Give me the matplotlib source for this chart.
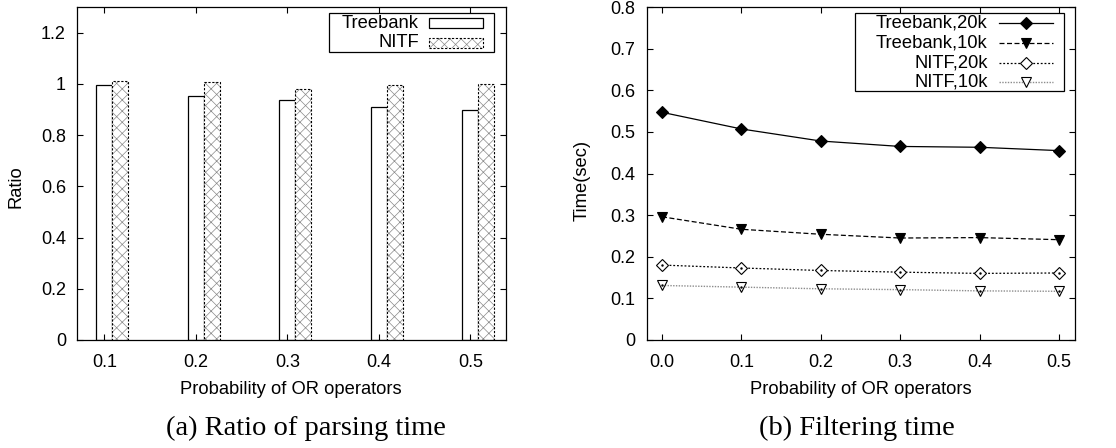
import matplotlib
matplotlib.use("Agg")
import matplotlib.pyplot as plt
from matplotlib.patches import Rectangle
from matplotlib.lines import Line2D
import numpy as np

# ---------------- data ----------------
prob_a = [0.1, 0.2, 0.3, 0.4, 0.5]
ratio_treebank = [0.996, 0.953, 0.938, 0.911, 0.897]
ratio_nitf = [1.013, 1.006, 0.981, 0.996, 0.999]

prob_b = [0.0, 0.1, 0.2, 0.3, 0.4, 0.5]
time_treebank_20k = [0.547, 0.507, 0.478, 0.465, 0.463, 0.455]
time_treebank_10k = [0.296, 0.266, 0.254, 0.245, 0.246, 0.241]
time_nitf_20k = [0.180, 0.173, 0.167, 0.163, 0.160, 0.161]
time_nitf_10k = [0.131, 0.127, 0.123, 0.121, 0.118, 0.117]

yticks_a = [0, 0.2, 0.4, 0.6, 0.8, 1.0, 1.2]
ytick_labels_a = ["0", "0.2", "0.4", "0.6", "0.8", "1", "1.2"]
yticks_b = [0, 0.1, 0.2, 0.3, 0.4, 0.5, 0.6, 0.7, 0.8]
ytick_labels_b = ["0", "0.1", "0.2", "0.3", "0.4", "0.5", "0.6", "0.7", "0.8"]
xtick_labels_a = ["0.1", "0.2", "0.3", "0.4", "0.5"]
xtick_labels_b = ["0.0", "0.1", "0.2", "0.3", "0.4", "0.5"]

legend_a = ["Treebank", "NITF"]
legend_b = ["Treebank,20k", "Treebank,10k", "NITF,20k", "NITF,10k"]
xlabel = "Probability of OR operators"
caption_a = "(a) Ratio of parsing time"
caption_b = "(b) Filtering time"

# ---------------- style ----------------
plt.rcParams["font.family"] = ["Liberation Sans", "DejaVu Sans"]
plt.rcParams["hatch.linewidth"] = 0.5
TICK_FS = 13
LAB_FS = 13.2
LEG_FS = 13.2
CAP_FS = 20.5
HATCH_C = "#8a8a8a"
HATCH = "xxx"

W, H = 1116, 448
fig = plt.figure(figsize=(W / 100, H / 100), dpi=100)

def style_axes(ax):
    ax.tick_params(direction="in", top=True, right=True, length=4.5, width=0.8,
                   labelsize=TICK_FS, pad=8)
    ax.tick_params(axis="x", pad=10)
    for s in ax.spines.values():
        s.set_linewidth(0.9)

# ---------------- panel (a) ----------------
axa = fig.add_axes([77 / W, 1 - 340 / H, 429 / W, 333 / H])
bw = 0.0175
xa = np.array(prob_a)
axa.bar(xa, ratio_treebank, width=bw, facecolor="white", edgecolor="black", linewidth=0.9)
axa.bar(xa + bw, ratio_nitf, width=bw, facecolor="white", edgecolor=HATCH_C,
        hatch=HATCH, linewidth=0)
axa.bar(xa + bw, ratio_nitf, width=bw, fill=False, edgecolor="black",
        linewidth=0.8, linestyle=(0, (2, 1.5)))
axa.set_xlim(0.070, 0.539)
axa.set_ylim(0, 1.3)
axa.set_xticks(prob_a, xtick_labels_a)
axa.set_yticks(yticks_a, ytick_labels_a)
style_axes(axa)
axa.text(-0.142, 0.46, "Ratio", transform=axa.transAxes, rotation=90,
         ha="center", va="center", fontsize=LAB_FS)
axa.text(0.499, -0.148, xlabel, transform=axa.transAxes, ha="center", va="center",
         fontsize=LAB_FS)

# legend (a)
axa.add_patch(Rectangle((0.587, 0.865), 0.972 - 0.587, 0.983 - 0.865,
                        transform=axa.transAxes, fill=False, edgecolor="black",
                        linewidth=0.9, zorder=5))
rows_a = [0.951, 0.893]
for i, (lab, y) in enumerate(zip(legend_a, rows_a)):
    axa.text(0.797, y, lab, transform=axa.transAxes, ha="right", va="center",
             fontsize=LEG_FS, zorder=6)
    if i == 0:
        axa.add_patch(Rectangle((0.821, y - 0.015), 0.126, 0.030, transform=axa.transAxes,
                                facecolor="white", edgecolor="black", linewidth=0.9, zorder=6))
    else:
        axa.add_patch(Rectangle((0.821, y - 0.015), 0.126, 0.030, transform=axa.transAxes,
                                facecolor="white", edgecolor=HATCH_C, hatch=HATCH,
                                linewidth=0, zorder=6))
        axa.add_patch(Rectangle((0.821, y - 0.015), 0.126, 0.030, transform=axa.transAxes,
                                fill=False, edgecolor="black", linewidth=0.8,
                                linestyle=(0, (2, 1.5)), zorder=7))

# ---------------- panel (b) ----------------
axb = fig.add_axes([646.7 / W, 1 - 340 / H, 428 / W, 333 / H])
styles = [
    dict(color="black", linestyle="-", marker="D", markersize=6,
         markerfacecolor="black", markeredgecolor="black", linewidth=0.9),
    dict(color="black", linestyle=(0, (4, 2)), marker="v", markersize=7,
         markerfacecolor="black", markeredgecolor="black", linewidth=0.9),
    dict(color="black", linestyle=(0, (1.5, 1.5)), marker="D", markersize=6,
         markerfacecolor="white", markeredgecolor="black", linewidth=0.9),
    dict(color="#8c8c8c", linestyle=(0, (1, 1)), marker="v", markersize=7,
         markerfacecolor="white", markeredgecolor="black", linewidth=1.0),
]
series = [time_treebank_20k, time_treebank_10k, time_nitf_20k, time_nitf_10k]
for vals, st in zip(series, styles):
    axb.plot(prob_b, vals, markeredgewidth=0.8, **st)
    if st["markerfacecolor"] == "white":
        axb.plot(prob_b, vals, linestyle="none", marker=".", markersize=1.5,
                 color="black")
axb.set_xlim(-0.0193, 0.5198)
axb.set_ylim(0, 0.8)
axb.set_xticks(prob_b, xtick_labels_b)
axb.set_yticks(yticks_b, ytick_labels_b)
style_axes(axb)
axb.text(-0.150, 0.48, "Time(sec)", transform=axb.transAxes, rotation=90,
         ha="center", va="center", fontsize=LAB_FS)
axb.text(0.50, -0.148, xlabel, transform=axb.transAxes, ha="center", va="center",
         fontsize=LAB_FS)

# legend (b)
axb.add_patch(Rectangle((0.487, 0.748), 0.975 - 0.487, 0.983 - 0.748,
                        transform=axb.transAxes, fill=False, edgecolor="black",
                        linewidth=0.9, zorder=5))
rows_b = [0.953, 0.893, 0.833, 0.775]
for lab, y, st in zip(legend_b, rows_b, styles):
    axb.text(0.797, y, lab, transform=axb.transAxes, ha="right", va="center",
             fontsize=LEG_FS, zorder=6)
    ln = Line2D([0.824, 0.949], [y, y], transform=axb.transAxes,
                color=st["color"], linestyle=st["linestyle"],
                linewidth=st["linewidth"], zorder=6)
    axb.add_line(ln)
    mk = Line2D([0.886], [y], transform=axb.transAxes, linestyle="none",
                marker=st["marker"], markersize=st["markersize"],
                markerfacecolor=st["markerfacecolor"],
                markeredgecolor=st["markeredgecolor"], markeredgewidth=0.8, zorder=7)
    axb.add_line(mk)

# captions
fig.text(306 / W, 1 - 428 / H, caption_a, ha="center", va="center",
         fontsize=CAP_FS, family=["Liberation Serif", "DejaVu Serif"])
fig.text(857 / W, 1 - 428 / H, caption_b, ha="center", va="center",
         fontsize=CAP_FS, family=["Liberation Serif", "DejaVu Serif"])

fig.savefig("out.png", dpi=100)
